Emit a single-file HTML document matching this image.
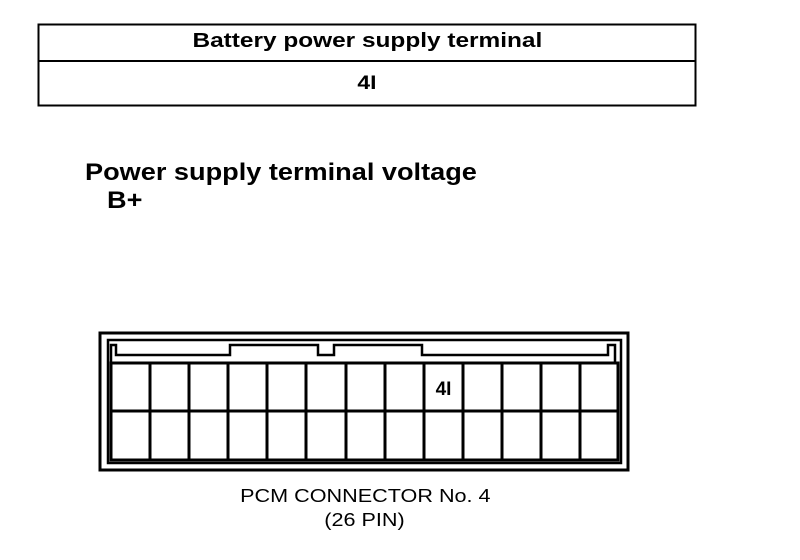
<!DOCTYPE html>
<html><head><style>
body{margin:0;background:#fff;}
.w{position:relative;width:800px;height:560px;font-family:"Liberation Sans",sans-serif;color:#000;overflow:hidden}
.t{position:absolute;white-space:nowrap}
.s{display:inline-block;transform-origin:center}
</style></head><body><div class="w">
<svg width="800" height="560" style="position:absolute;left:0;top:0">
<g fill="none" stroke="#000">
<rect x="38.5" y="24.5" width="657" height="81" stroke-width="2"/>
<line x1="38" y1="61" x2="696" y2="61" stroke-width="2"/>
<rect x="100" y="333" width="528" height="137" stroke-width="3"/>
<rect x="108" y="340" width="513" height="123" stroke-width="2.5"/>
<polyline points="111,362 111,345 116,345 116,355 230,355 230,345 318,345 318,355 334,355 334,345 422,345 422,355 608,355 608,345 615,345 615,362" stroke-width="2.5"/>
<rect x="111" y="363" width="507" height="97" stroke-width="3"/>
<line x1="111" y1="411" x2="618" y2="411" stroke-width="3"/>
</g>
<g stroke="#000" stroke-width="3">
<line x1="150" y1="363" x2="150" y2="460"/><line x1="189" y1="363" x2="189" y2="460"/>
<line x1="228" y1="363" x2="228" y2="460"/><line x1="267" y1="363" x2="267" y2="460"/>
<line x1="306" y1="363" x2="306" y2="460"/><line x1="346" y1="363" x2="346" y2="460"/>
<line x1="385" y1="363" x2="385" y2="460"/><line x1="424" y1="363" x2="424" y2="460"/>
<line x1="463" y1="363" x2="463" y2="460"/><line x1="502" y1="363" x2="502" y2="460"/>
<line x1="541" y1="363" x2="541" y2="460"/><line x1="580" y1="363" x2="580" y2="460"/>
</g>
</svg>
<div class="t" style="left:38px;width:658px;top:30px;text-align:center;font-weight:bold;font-size:20px"><span class="s" style="transform:scaleX(1.22)">Battery power supply terminal</span></div>
<div class="t" style="left:38px;width:658px;top:73px;text-align:center;font-weight:bold;font-size:19px"><span class="s" style="transform:scaleX(1.2)">4I</span></div>
<div class="t" style="left:85px;top:159px;font-weight:bold;font-size:24px;transform:scaleX(1.13);transform-origin:left">Power supply terminal voltage</div>
<div class="t" style="left:107px;top:187px;font-weight:bold;font-size:24px;transform:scaleX(1.13);transform-origin:left">B+</div>
<div class="t" style="left:424px;width:39px;top:379px;text-align:center;font-weight:bold;font-size:19px">4I</div>
<div class="t" style="left:165px;width:400px;top:486px;text-align:center;font-size:18px"><span class="s" style="transform:scaleX(1.2)">PCM CONNECTOR No. 4</span></div>
<div class="t" style="left:165px;width:400px;top:510px;text-align:center;font-size:18px"><span class="s" style="transform:scaleX(1.2)">(26 PIN)</span></div>
</div></body></html>
